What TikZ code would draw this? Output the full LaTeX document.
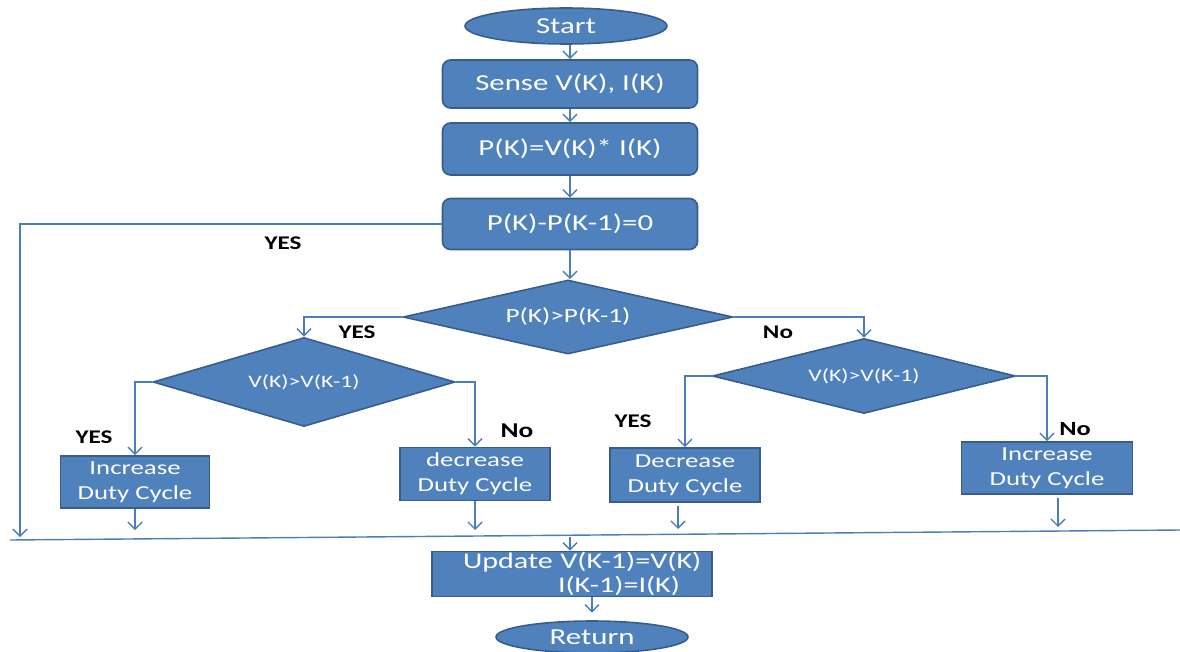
\documentclass[tikz,border=0pt]{standalone}
\usepackage{fontspec}
\usetikzlibrary{shapes.geometric,arrows.meta}
\newfontfamily\boxfont[FakeStretch=1.35]{Carlito}
\newfontfamily\labfont[FakeStretch=1.3]{Carlito}
\definecolor{fillblue}{HTML}{4F81BD}
\definecolor{edgeblue}{HTML}{385D8A}
\definecolor{linkblue}{HTML}{4A7EBB}
\begin{document}
\begin{tikzpicture}[x=0.02cm,y=-0.02cm,
  base/.style={fill=fillblue,draw=edgeblue,line width=0.9pt,text=white,inner sep=0pt,align=center},
  roundbox/.style={base,rectangle,rounded corners=4.5pt},
  sqbox/.style={base,rectangle},
  oval/.style={base,ellipse},
  decide/.style={base,diamond},
  arr/.style={draw=linkblue,line width=0.8pt,-{Straight Barb[length=4pt,width=8pt,line width=0.8pt]}},
  link/.style={draw=linkblue,line width=0.8pt},
  lab/.style={text=black,inner sep=0pt,font=\labfont\bfseries\fontsize{11}{12}\selectfont}
]
\useasboundingbox (0,0) rectangle (1180,652);

\node[oval,minimum width=4.04cm,minimum height=0.72cm,font=\boxfont\fontsize{13}{15}\selectfont] (start) at (566,26) {Start};
\node[roundbox,minimum width=5.1cm,minimum height=0.96cm,font=\boxfont\fontsize{13}{15}\selectfont] (sense) at (570,84) {Sense V(K), I(K)};
\node[roundbox,minimum width=5.1cm,minimum height=1.04cm,font=\boxfont\fontsize{13}{15}\selectfont] (pk) at (570,149) {P(K)=V(K)* I(K)};
\node[roundbox,minimum width=5.1cm,minimum height=1.02cm,font=\boxfont\fontsize{13}{15}\selectfont] (diff) at (570,224) {P(K)-P(K-1)=0};

\node[decide,aspect=4.46,minimum width=6.6cm,minimum height=1.48cm,font=\boxfont\fontsize{11.5}{13}\selectfont] (bigd) at (568,317) {P(K)>P(K-1)};
\node[decide,aspect=3.39,minimum width=6.04cm,minimum height=1.78cm,font=\boxfont\fontsize{10}{12}\selectfont] (ldia) at (304,382) {V(K)>V(K-1)};
\node[decide,aspect=4.04,minimum width=6.06cm,minimum height=1.5cm,font=\boxfont\fontsize{10}{12}\selectfont] (rdia) at (864,376) {V(K)>V(K-1)};

\node[sqbox,minimum width=2.98cm,minimum height=1.04cm,font=\boxfont\fontsize{11.3}{14}\selectfont] (incl) at (135,482) {Increase\\Duty Cycle};
\node[sqbox,minimum width=3.0cm,minimum height=1.06cm,font=\boxfont\fontsize{11.3}{14}\selectfont] (decm) at (475,474) {decrease\\Duty Cycle};
\node[sqbox,minimum width=3.0cm,minimum height=1.08cm,font=\boxfont\fontsize{11.3}{14}\selectfont] (decr) at (685,475) {Decrease\\Duty Cycle};
\node[sqbox,minimum width=3.42cm,minimum height=1.04cm,font=\boxfont\fontsize{11.3}{14}\selectfont] (incr) at (1047,468) {Increase\\Duty Cycle};

\node[sqbox,minimum width=5.6cm,minimum height=0.9cm,text width=5.6cm,align=left,font=\boxfont\fontsize{12.7}{14}\selectfont] (upd) at (572,574) {\hspace*{0.62cm}Update V(K-1)=V(K)\\\hspace*{2.52cm}I(K-1)=I(K)};
\node[oval,minimum width=3.84cm,minimum height=0.64cm,font=\boxfont\fontsize{13}{15}\selectfont] (ret) at (592,637) {Return};

% main column
\draw[arr] (start.south -| sense.north) -- (sense.north);
\draw[arr] (sense) -- (pk);
\draw[arr] (pk) -- (diff);
\draw[arr] (diff.south) -- (diff.south |- bigd.north);

% YES loop on the left
\coordinate (loopend) at (20,537);
\draw[arr] (diff.west) -| (loopend);
\node[lab] (yes0) at (283,243) {YES};

% branches
\draw[arr] (bigd.west) -| (ldia.north);
\draw[arr] (bigd.east) -| (rdia.north);
\node[lab] (yes1) at (357,332) {YES};
\node[lab,font=\labfont\bfseries\fontsize{11}{13}\selectfont] (no1) at (778,332) {No};

\draw[arr] (ldia.west) -| (incl.north);
\draw[arr] (ldia.east) -| (decm.north);
\node[lab] (yes2) at (94,437) {YES};
\node[lab,font=\labfont\bfseries\fontsize{12}{14}\selectfont] (no2) at (517,431) {No};

\draw[arr] (rdia.west) -| (decr.north);
\draw[arr] (rdia.east) -| (incr.north);
\node[lab] (yes3) at (633,421) {YES};
\node[lab,font=\labfont\bfseries\fontsize{11.5}{13}\selectfont] (no3) at (1075,429) {No};

% collecting line
\coordinate (hl1) at (10,540);
\coordinate (hl2) at (1180,530);
\draw[link] (hl1) -- (hl2);

\coordinate (e1) at (135,530);
\coordinate (e2) at (475,530);
\coordinate (e3) at (678,529);
\coordinate (e4) at (1058,527);
\draw[arr] (incl.south) -- (e1);
\draw[arr] (decm.south) -- (e2);
\draw[arr] ([yshift=-2pt]decr.south -| e3) -- (e3);
\draw[arr] ([yshift=-2pt]incr.south -| e4) -- (e4);

\coordinate (u0) at (570,537);
\draw[arr] (u0) -- (u0 |- upd.north);
\draw[arr,shorten >=1.5mm] (upd.south -| ret.north) -- (ret.north);
\end{tikzpicture}
\end{document}
